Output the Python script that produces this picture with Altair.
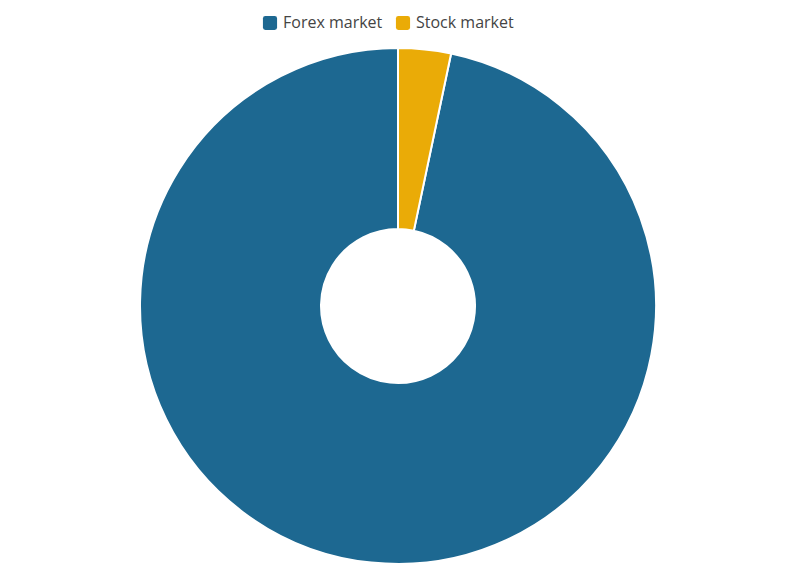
import altair as alt
import pandas as pd

markets = ["Forex market", "Stock market"]
shares = [96.7, 3.3]
draw_order = [1, 0]
colors = ["#1d6891", "#eaab07"]

df = pd.DataFrame({"market": markets, "share": shares, "ord": draw_order})

rounded = "M-0.65,-1 H0.65 Q1,-1 1,-0.65 V0.65 Q1,1 0.65,1 H-0.65 Q-1,1 -1,0.65 V-0.65 Q-1,-1 -0.65,-1 Z"

chart = alt.Chart(df).mark_arc(
    innerRadius=77, outerRadius=258, stroke="white", strokeWidth=2
).encode(
    theta=alt.Theta("share:Q", stack=True),
    order=alt.Order("ord:Q"),
    color=alt.Color(
        "market:N",
        scale=alt.Scale(domain=markets, range=colors),
        legend=alt.Legend(
            title=None,
            orient="none",
            direction="horizontal",
            legendX=254,
            legendY=7,
            symbolType=rounded,
            symbolSize=200,
            symbolStrokeWidth=0,
            symbolOpacity=1,
            labelFont="Open Sans",
            labelFontSize=16,
            labelColor="#444444",
            columnPadding=12,
            labelOffset=5,
        ),
    ),
    x=alt.value(390),
    y=alt.value(298),
).properties(width=780, height=559, padding=0).configure_view(stroke=None)

chart.save("out.html", embed_options={"renderer": "svg", "actions": False})
